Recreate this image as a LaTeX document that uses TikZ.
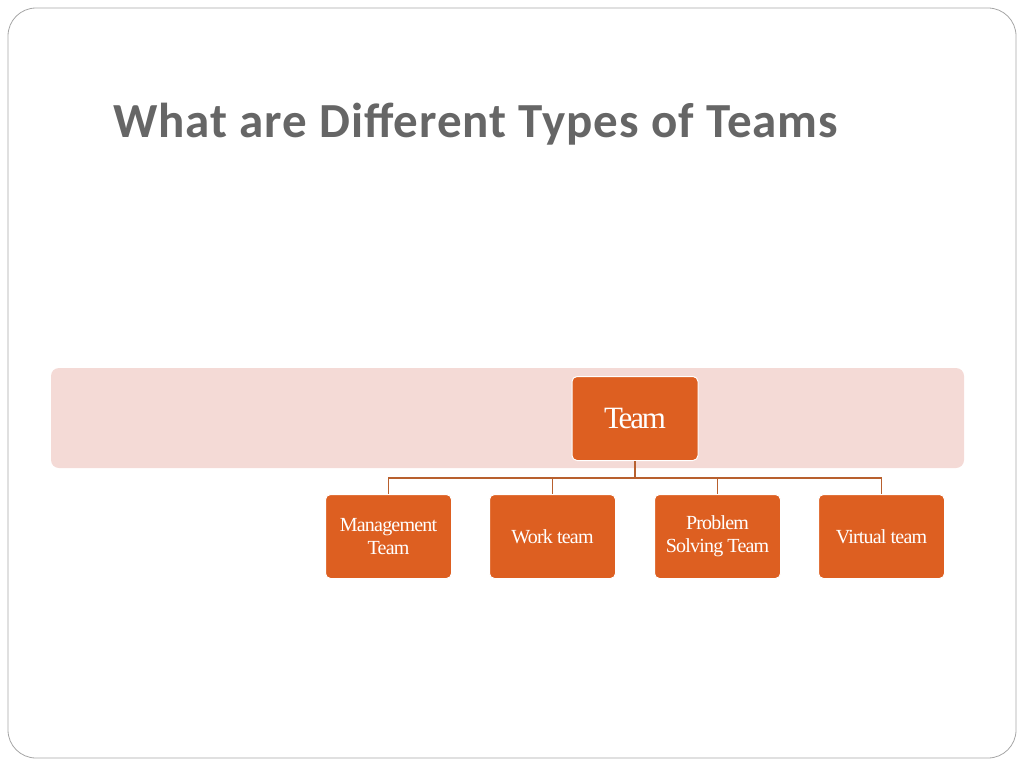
\documentclass[tikz,border=0pt]{standalone}
\usepackage{fontspec}
\setmainfont{Liberation Serif}
\newfontfamily\titlefont{Carlito}
\definecolor{orng}{HTML}{DD5F21}
\definecolor{pinkband}{HTML}{F4DAD6}
\definecolor{lnk}{HTML}{B8602E}
\definecolor{ttl}{HTML}{666666}
\begin{document}
\begin{tikzpicture}[x=1pt,y=-1pt,
  box/.style={draw=white,line width=1pt,fill=orng,rounded corners=5pt,text=white,align=center,font=\fontsize{20}{23}\selectfont\addfontfeatures{LetterSpace=-4},minimum width=126pt,minimum height=84pt,inner sep=2pt},
  conn/.style={draw=lnk,line width=1.2pt}]
\useasboundingbox (0,0) rectangle (1024,768);
\draw[draw=gray!70,line width=0.8pt,rounded corners=28pt] (8,8) rectangle (1016,758);
\node[anchor=base west,inner sep=0,text=ttl,font=\titlefont\bfseries\fontsize{49}{56}\selectfont\addfontfeatures{LetterSpace=2}] (title) at (113,137) {What are Different Types of Teams};
\fill[pinkband,rounded corners=8pt] (51,368) rectangle (964,468);
\node[box,font=\fontsize{31}{32}\selectfont\addfontfeatures{LetterSpace=-7}] (team) at (635,418.5) {Team};
\node[box] (c1) at (388.5,536.5) {Management\\Team};
\node[box] (c2) at (552.5,536.5) {Work team};
\node[box] (c3) at (717.5,536.5) {Problem\\Solving Team};
\node[box] (c4) at (881.5,536.5) {Virtual team};
\coordinate (j) at (635,478);
\draw[conn] (team.south) -- (j);
\foreach \c in {c1,c2,c3,c4} \draw[conn] (j) -| (\c.north);
\end{tikzpicture}
\end{document}
